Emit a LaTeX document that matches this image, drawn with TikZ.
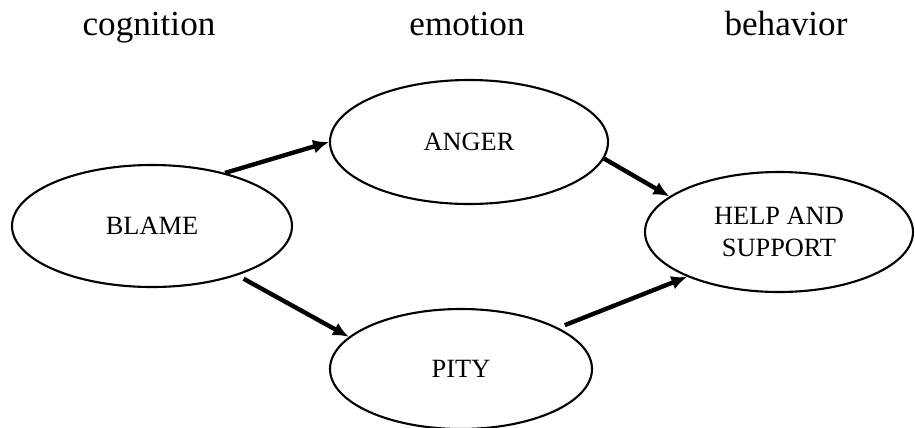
\documentclass[tikz,border=0pt]{standalone}
\usepackage{fontspec}
\setmainfont{Liberation Serif}
\usetikzlibrary{arrows.meta,shapes.geometric}
\tikzset{
  stagebox/.style={draw=black, ellipse, line width=1.2pt, inner sep=0pt,
    align=center, font=\fontsize{15}{18}\selectfont},
  headtxt/.style={anchor=base, font=\fontsize{20}{24}\selectfont},
  link/.style={-{Latex[length=9pt, width=8pt]}, line width=2.5pt},
}

\begin{document}
\begin{tikzpicture}

  \useasboundingbox (0,0) rectangle (18.3,-8.54);

  %% ---- column headings ----
  \node[headtxt] (hcog) at (2.98, -0.7) {cognition};
  \node[headtxt] (hemo) at (9.34, -0.7) {emotion};
  \node[headtxt] (hbeh) at (15.72,-0.7) {behavior};

  %% ---- stages ----
  \node[stagebox, minimum width=5.6cm,  minimum height=2.44cm] (blame) at (3.04, -4.52) {BLAME};
  \node[stagebox, minimum width=5.56cm, minimum height=2.48cm] (anger) at (9.38, -2.84) {ANGER};
  \node[stagebox, minimum width=5.24cm, minimum height=2.4cm]  (pity)  at (9.22, -7.38) {PITY};
  \node[stagebox, minimum width=5.36cm, minimum height=2.4cm]  (help)  at (15.58,-4.64) {HELP AND\\SUPPORT};

  %% ---- links ----
  \draw[link] (blame.36) -- (anger.180);
  \draw[link] (anger.-7) -- (help.162);
  \draw[link, shorten <=4pt] (blame.-30) -- (pity.164);
  \draw[link, shorten <=4pt] (pity.23) -- (help.-154);

\end{tikzpicture}
\end{document}
